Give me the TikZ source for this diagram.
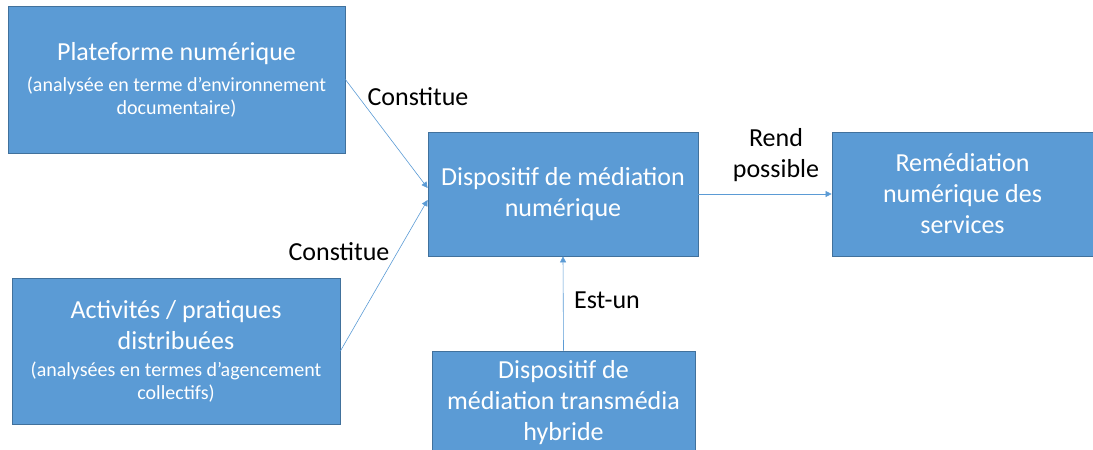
\documentclass[tikz,border=0pt]{standalone}
\usepackage{fontspec}
\setmainfont{Carlito}
\usetikzlibrary{arrows.meta}
\definecolor{boxFill}{HTML}{5B9BD5}
\definecolor{boxLine}{HTML}{41719C}
\newcommand{\bigtxt}{\fontsize{26}{31}\selectfont}
\newcommand{\smalltxt}{\fontsize{20}{23}\selectfont}
\tikzset{
    >={Triangle[length=6pt,width=6pt]},
    box/.style={rectangle,draw=boxLine,line width=0.8pt,fill=boxFill,text=white,align=center,inner sep=0pt,font=\bigtxt},
    link/.style={->,draw=boxFill,line width=0.6pt},
    lbl/.style={align=center,font=\bigtxt,inner sep=0pt},
}

\begin{document}
\begin{tikzpicture}[x=1pt,y=-1pt]
    \useasboundingbox (0,0) rectangle (1093,450);

    \node[box,minimum width=337pt,minimum height=147pt] (plat) at (176.5,79.5) {Plateforme numérique\\\smalltxt (analysée en terme d’environnement\\[-8pt]\smalltxt documentaire)};
    \node[box,minimum width=328pt,minimum height=146pt] (act) at (176,351) {Activités / pratiques\\distribuées\\[-4pt]\smalltxt (analysées en termes d’agencement\\[-8pt]\smalltxt collectifs)};
    \node[box,minimum width=270pt,minimum height=124pt] (disp) at (563,194) {Dispositif de médiation\\numérique};
    \node[box,minimum width=261pt,minimum height=124pt] (remed) at (962.5,194) {Remédiation\\numérique des\\services};
    \node[box,minimum width=263pt,minimum height=104pt] (hyb) at (563.5,403) {Dispositif de\\médiation transmédia\\hybride};

    \draw[link] (plat.east) -- ([yshift=6pt]disp.west);
    \draw[link] (act.east) -- ([yshift=-6pt]disp.west);
    \draw[link] (disp.east) -- (remed.west);
    \draw[link] (hyb.north) -- (disp.south);

    \node[lbl] (c1) at (418,97) {Constitue};
    \node[lbl] (c2) at (339,252) {Constitue};
    \node[lbl] (rp) at (776,155) {Rend\\possible};
    \node[lbl] (eu) at (607,300) {Est-un};
\end{tikzpicture}
\end{document}
